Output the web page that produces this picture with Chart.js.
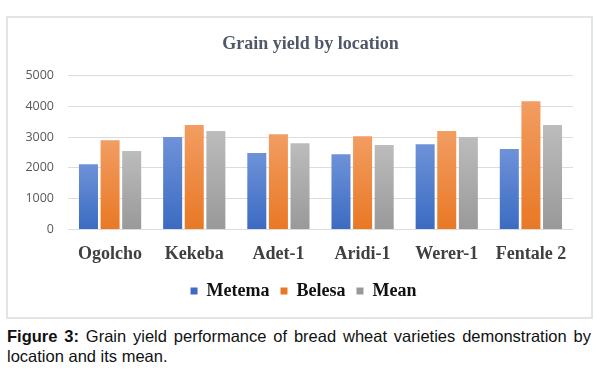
<!DOCTYPE html>
<html>
<head>
<meta charset="utf-8">
<script src="https://cdn.jsdelivr.net/npm/chart.js@4/dist/chart.umd.min.js"></script>
<style>
  html, body { margin: 0; padding: 0; background: #fff; }
  body { width: 594px; height: 384px; position: relative; overflow: hidden; }
  #box { position: absolute; left: 6px; top: 16px; width: 583px; height: 299px; border: 2px solid #e2e5e8; }
  #wrap { position: absolute; left: 0; top: 0; width: 583px; height: 299px; }
  #cap { position: absolute; left: 7px; top: 326px; width: 584px; font-family: "Liberation Sans", Arial, sans-serif; font-size: 16.5px; line-height: 20px; color: #111; text-align: justify; }
  #cap b { font-weight: bold; }
</style>
</head>
<body>
<div id="box"><div id="wrap"><canvas id="c"></canvas></div></div>
<div id="cap"><b>Figure 3:</b> Grain yield performance of bread wheat varieties demonstration by location and its mean.</div>
<script>
const categories = ["Ogolcho", "Kekeba", "Adet-1", "Aridi-1", "Werer-1", "Fentale 2"];
const metema = [2120, 3000, 2480, 2445, 2770, 2610];
const belesa = [2900, 3390, 3095, 3030, 3195, 4170];
const mean = [2550, 3195, 2800, 2740, 3000, 3390];
const yTicks = [0, 1000, 2000, 3000, 4000, 5000];

function gradFill(top, bottom, solid) {
  return function(ctx) {
    const chart = ctx.chart;
    if (ctx.type !== 'data' || !chart.chartArea || !ctx.parsed) return solid;
    const y = chart.scales.y;
    const yt = y.getPixelForValue(ctx.parsed.y);
    const yb = y.getPixelForValue(0);
    if (!isFinite(yt) || !isFinite(yb) || yt === yb) return solid;
    const g = chart.ctx.createLinearGradient(0, yt, 0, yb);
    g.addColorStop(0, top);
    g.addColorStop(1, bottom);
    return g;
  };
}

// shift title and legend horizontally to match the reference's centring
const shiftBlocks = {
  id: 'shiftBlocks',
  afterLayout(chart) {
    if (chart.legend) { chart.legend.left += 13; chart.legend.right += 13; }
    if (chart.titleBlock) { chart.titleBlock.left += 20; chart.titleBlock.right += 20; }
  }
};

new Chart(document.getElementById('c'), {
  type: 'bar',
  data: {
    labels: categories,
    datasets: [
      { label: 'Metema', data: metema, backgroundColor: gradFill('#6e92d8', '#3b6bc2', '#4472c4') },
      { label: 'Belesa', data: belesa, backgroundColor: gradFill('#f29d62', '#e97824', '#ed7d31') },
      { label: 'Mean', data: mean, backgroundColor: gradFill('#bcbcbc', '#999999', '#a5a5a5') }
    ]
  },
  plugins: [shiftBlocks],
  options: {
    responsive: true,
    maintainAspectRatio: false,
    animation: false,
    layout: { padding: { left: 0, right: 18, top: 6, bottom: 7 } },
    datasets: { bar: { barPercentage: 0.88, categoryPercentage: 0.77 } },
    plugins: {
      title: {
        display: true,
        text: 'Grain yield by location',
        color: '#4f5868',
        font: { family: '"Liberation Serif", "Times New Roman", serif', size: 18, weight: 'bold' },
        padding: { top: 10, bottom: 20 }
      },
      legend: {
        position: 'bottom',
        labels: {
          boxWidth: 7, boxHeight: 7,
          padding: 11,
          color: '#111',
          font: { family: '"Liberation Serif", "Times New Roman", serif', size: 18, weight: 'bold' }
        }
      },
      tooltip: { enabled: false }
    },
    scales: {
      x: {
        grid: { display: false },
        border: { display: false },
        ticks: {
          color: '#404040',
          padding: 6,
          font: { family: '"Liberation Serif", "Times New Roman", serif', size: 18, weight: 'bold' }
        }
      },
      y: {
        min: 0, max: 5000,
        afterBuildTicks: (axis) => { axis.ticks = yTicks.map(v => ({ value: v })); },
        afterFit: (axis) => { axis.width = 60; },
        grid: { color: '#dcdcdc', drawTicks: false },
        border: { display: false },
        ticks: {
          color: '#595959',
          padding: 14,
          callback: (v) => String(v),
          font: { family: '"Open Sans", "Liberation Sans", sans-serif', size: 12.5 }
        }
      }
    }
  }
});
</script>
</body>
</html>
